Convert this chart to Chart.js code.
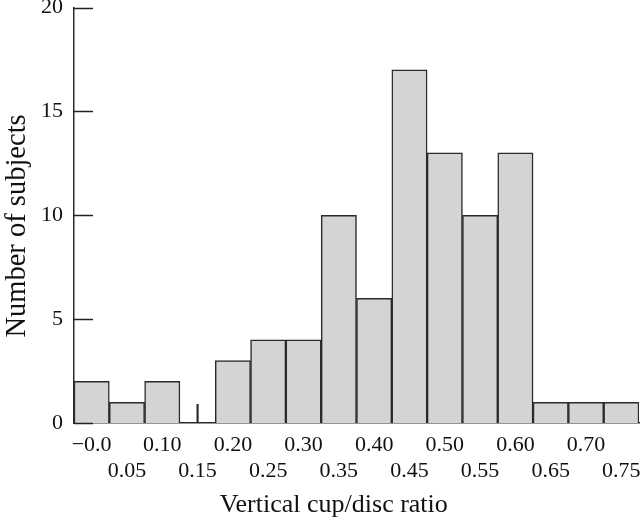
<!DOCTYPE html>
<html><head><meta charset="utf-8">
<script src="https://cdn.jsdelivr.net/npm/chart.js@4"></script>
<style>html,body{margin:0;padding:0;background:#fff}#wrap{width:640px;height:523px}</style>
</head><body><div id="wrap"><canvas id="c" width="640" height="523"></canvas></div>
<script>
const categories = ['−0.0','0.05','0.10','0.15','0.20','0.25','0.30','0.35','0.40','0.45','0.50','0.55','0.60','0.65','0.70','0.75'];
const counts = [2,1,2,0,3,4,4,10,6,17,13,10,13,1,1,1];
const markerValues = [null,null,null,0.9,null,null,null,null,null,null,null,null,null,null,null,null];
const yTicks = [0,5,10,15,20];
const xTitle = 'Vertical cup/disc ratio';
const yTitle = 'Number of subjects';

const FONT = "'Liberation Serif', 'DejaVu Serif', serif";
Chart.defaults.font.family = FONT;
Chart.defaults.color = '#111';

const inwardTicks = {
  id: 'inwardTicks',
  afterDraw(chart) {
    const {ctx, scales: {y}, chartArea} = chart;
    ctx.save();
    ctx.strokeStyle = '#222';
    ctx.lineWidth = 1.5;
    yTicks.forEach(v => {
      const py = Math.round(y.getPixelForValue(v)) + 0.5;
      ctx.beginPath();
      ctx.moveTo(chartArea.left, py);
      ctx.lineTo(chartArea.left + 19, py);
      ctx.stroke();
    });
    ctx.restore();
  }
};

new Chart(document.getElementById('c'), {
  type: 'bar',
  data: {
    labels: categories,
    datasets: [{
      data: counts,
      backgroundColor: '#d4d4d4',
      borderColor: '#2a2a2a',
      borderWidth: 1.5,
      barPercentage: 1,
      categoryPercentage: 1
    },{
      data: markerValues,
      backgroundColor: '#2a2a2a',
      borderWidth: 0,
      barThickness: 1.5,
      grouped: false
    }]
  },
  options: {
    responsive: false,
    animation: false,
    layout: {padding: {top: 7.5, right: 1, left: 0, bottom: 0}},
    plugins: {legend: {display: false}, tooltip: {enabled: false}},
    scales: {
      x: {
        grid: {display: false, drawTicks: false},
        border: {display: true, color: '#2a2a2a', width: 1.5},
        ticks: {
          autoSkip: false, maxRotation: 0, padding: 9,
          font: {size: 22, lineHeight: 1.2},
          callback: (v, i) => i % 2 === 0 ? [categories[i]] : ['', categories[i]]
        },
        title: {display: true, text: xTitle + '\u00A0'.repeat(7), font: {size: 26, lineHeight: 1.2}, padding: {top: 0, bottom: 2}},
        afterFit: s => { s.height = 100; s.paddingLeft = 0; s.paddingRight = 0; }
      },
      y: {
        min: 0, max: 20,
        afterBuildTicks: s => { s.ticks = yTicks.map(v => ({value: v})); },
        grid: {display: false, drawTicks: false},
        border: {display: true, color: '#2a2a2a', width: 1.5},
        ticks: {padding: 11, font: {size: 22}},
        title: {display: true, text: yTitle + '\u00A0'.repeat(3), font: {size: 28.5, lineHeight: 1.2}, padding: {top: 0, bottom: 0}},
        afterFit: s => { s.width = 74; s.paddingTop = 0; s.paddingBottom = 0; }
      }
    }
  },
  plugins: [inwardTicks]
});
</script></body></html>
